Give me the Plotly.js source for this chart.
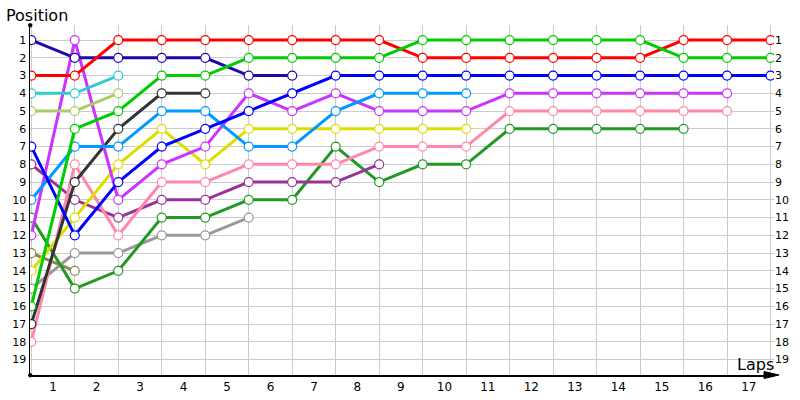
<!DOCTYPE html>
<html>
<head>
<meta charset="utf-8">
<script src="https://cdn.plot.ly/plotly-3.0.1.min.js"></script>
<style>html,body{margin:0;padding:0;background:#fff;}</style>
</head>
<body>
<div id="chart" style="width:800px;height:400px;"></div>
<script>
// Lap labels (between lap boundaries)
const lapLabels = ['1','2','3','4','5','6','7','8','9','10','11','12','13','14','15','16','17'];
const positions = [1,2,3,4,5,6,7,8,9,10,11,12,13,14,15,16,17,18,19];

// Position of each driver at the end of each lap (index 0 = start)
const red       = [3,3,1,1,1,1,1,1,1,2,2,2,2,2,2,1,1,1];
const navy      = [1,2,2,2,2,3,3];
const blue      = [7,12,9,7,6,5,4,3,3,3,3,3,3,3,3,3,3,3];
const green     = [16,6,5,3,3,2,2,2,2,1,1,1,1,1,1,2,2,2];
const cyan      = [4,4,3];
const olive     = [5,5,4];
const lightBlue = [10,7,7,5,5,7,7,5,4,4,4];
const violet    = [12,1,10,8,7,4,5,4,5,5,5,4,4,4,4,4,4];
const dark      = [17,9,6,4,4];
const yellow    = [14,11,8,6,8,6,6,6,6,6,6];
const pink      = [18,8,12,9,9,8,8,8,7,7,7,5,5,5,5,5,5];
const plum      = [8,10,11,10,10,9,9,9,8];
const forest    = [11,15,14,11,11,10,10,7,9,8,8,6,6,6,6,6];
const gray      = [15,13,13,12,12,11];
const khaki     = [13,14];

const series = [
  {name:'khaki', data:khaki, color:'#8a8a50'},
  {name:'gray', data:gray, color:'#999999'},
  {name:'forest', data:forest, color:'#229922'},
  {name:'plum', data:plum, color:'#993399'},
  {name:'pink', data:pink, color:'#ff88aa'},
  {name:'yellow', data:yellow, color:'#dddd00'},
  {name:'dark', data:dark, color:'#333333'},
  {name:'violet', data:violet, color:'#cc33ff'},
  {name:'lightBlue', data:lightBlue, color:'#0099ff'},
  {name:'olive', data:olive, color:'#aacc66'},
  {name:'cyan', data:cyan, color:'#33cccc'},
  {name:'blue', data:blue, color:'#0000ff'},
  {name:'navy', data:navy, color:'#1a0aaa'},
  {name:'red', data:red, color:'#ff0000'},
  {name:'green', data:green, color:'#00cc00', axis:'y2'}
];

const traces = series.map(s => ({
  type:'scatter',
  mode:'lines+markers',
  name:s.name,
  x:s.data.map((_, i) => i),
  y:s.data,
  yaxis:s.axis || 'y',
  line:{color:s.color, width:3},
  marker:{symbol:'circle', size:9, color:'#ffffff', line:{color:s.color, width:1.2}},
  showlegend:false,
  hoverinfo:'skip'
}));

const L = 30, R = 774, T = 25, B = 375;
const px = v => (v - L) / (R - L);
const py = v => (B - v) / (B - T);

const yRange = [19.87, 0.15];

const layout = {
  width:800, height:400,
  margin:{l:L, r:800-R, t:T, b:400-B, pad:0},
  paper_bgcolor:'#ffffff',
  plot_bgcolor:'#ffffff',
  font:{family:'DejaVu Sans, Verdana, sans-serif', color:'#000000'},
  showlegend:false,
  xaxis:{
    range:[-0.03, 17.08],
    tickmode:'array',
    tickvals:lapLabels.map((_, i) => i + 0.5),
    ticktext:lapLabels,
    showgrid:false,
    zeroline:false,
    showline:true, linecolor:'#000000', linewidth:1.5,
    ticks:'',
    tickfont:{size:12},
    minor:{tickmode:'linear', tick0:0, dtick:1, showgrid:true, gridcolor:'#cccccc', gridwidth:1, ticks:''}
  },
  yaxis:{
    range:yRange,
    tickmode:'array',
    tickvals:positions,
    ticktext:positions.map(String),
    showgrid:true, gridcolor:'#cccccc', gridwidth:1,
    zeroline:false,
    showline:true, linecolor:'#000000', linewidth:1.5,
    ticks:'',
    tickfont:{size:11}
  },
  yaxis2:{
    overlaying:'y', side:'right', anchor:'x',
    range:yRange,
    tickmode:'array',
    tickvals:positions,
    ticktext:positions.map(String),
    showgrid:false, zeroline:false, showline:false,
    ticks:'',
    tickfont:{size:11}
  },
  shapes:[
    {type:'path', xref:'paper', yref:'paper', layer:'above',
     path:`M ${px(764)} ${py(371.5)} L ${px(779)} ${py(375)} L ${px(764)} ${py(378.5)} Z`,
     fillcolor:'#000000', line:{color:'#000000', width:1}},
    {type:'circle', xref:'paper', yref:'paper', layer:'above',
     x0:px(28.5), x1:px(32), y0:py(23.5), y1:py(27),
     fillcolor:'#000000', line:{color:'#000000', width:1}},
    {type:'circle', xref:'paper', yref:'paper', layer:'above',
     x0:px(28.5), x1:px(32), y0:py(373.5), y1:py(377),
     fillcolor:'#000000', line:{color:'#000000', width:1}}
  ],
  annotations:[
    {text:'Position', xref:'paper', yref:'paper', x:px(4), y:py(15), xanchor:'left', yanchor:'middle',
     showarrow:false, font:{size:16, family:'DejaVu Sans, Verdana, sans-serif', color:'#000000'}},
    {text:'Laps', xref:'paper', yref:'paper', x:px(776), y:py(364), xanchor:'right', yanchor:'middle',
     showarrow:false, font:{size:16, family:'DejaVu Sans, Verdana, sans-serif', color:'#000000'}}
  ]
};

Plotly.newPlot('chart', traces, layout, {staticPlot:true, displayModeBar:false});
</script>
</body>
</html>
